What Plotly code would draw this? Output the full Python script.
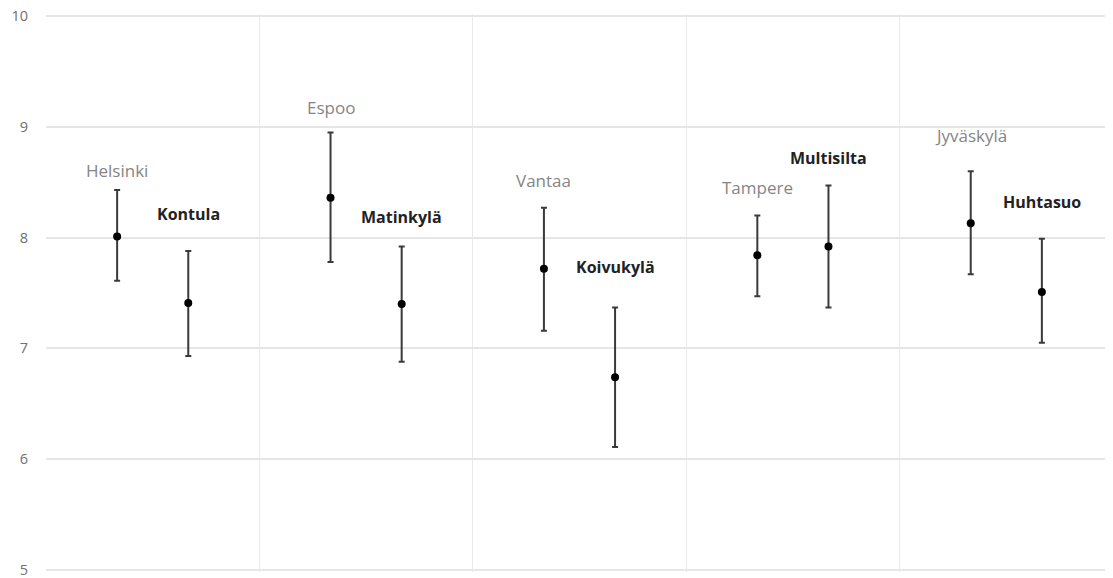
import plotly.graph_objects as go

cities = ['Helsinki', 'Espoo', 'Vantaa', 'Tampere', 'Jyväskylä']
city_mean = [8.01, 8.36, 7.72, 7.84, 8.13]
city_low = [7.61, 7.78, 7.16, 7.47, 7.67]
city_high = [8.43, 8.95, 8.27, 8.20, 8.60]

areas = ['Kontula', 'Matinkylä', 'Koivukylä', 'Multisilta', 'Huhtasuo']
area_mean = [7.41, 7.40, 6.74, 7.92, 7.51]
area_low = [6.93, 6.88, 6.11, 7.37, 7.05]
area_high = [7.88, 7.92, 7.37, 8.47, 7.99]

y_ticks = [5, 6, 7, 8, 9, 10]

# pixel lift of each label above the top of its error bar
city_label_shift = [20, 25, 27, 28, 36]
area_label_shift = [37, 30, 40, 28, 37]

city_x = [i + 1 / 3 for i in range(len(cities))]
area_x = [i + 2 / 3 for i in range(len(areas))]


def add_series(fig, x, mean, low, high):
    fig.add_trace(go.Scatter(
        x=x, y=mean, mode='markers',
        marker=dict(color='#000000', size=8),
        error_y=dict(type='data', symmetric=False,
                     array=[h - m for h, m in zip(high, mean)],
                     arrayminus=[m - l for m, l in zip(mean, low)],
                     color='#3a3a3a', thickness=2, width=3),
        showlegend=False, cliponaxis=False,
    ))


fig = go.Figure()
add_series(fig, city_x, city_mean, city_low, city_high)
add_series(fig, area_x, area_mean, area_low, area_high)

for x, top, name, shift in zip(city_x, city_high, cities, city_label_shift):
    fig.add_annotation(x=x, y=top, text=name, showarrow=False, yanchor='middle',
                       yshift=shift, font=dict(color='#858585', size=17))
for x, top, name, shift in zip(area_x, area_high, areas, area_label_shift):
    fig.add_annotation(x=x, y=top, text='<b>' + name + '</b>', showarrow=False,
                       yanchor='middle', yshift=shift,
                       font=dict(color='#222222', size=16))

# the page body adds 8px of margin, so the plot area is pulled back by that
fig.update_layout(
    width=1113, height=578,
    margin=dict(l=38, r=8, t=6, b=14),
    plot_bgcolor='white', paper_bgcolor='white',
    font=dict(family='Open Sans, sans-serif'),
    xaxis=dict(range=[0, 5], tickvals=[1, 2, 3, 4], showticklabels=False,
               showgrid=True, gridcolor='#ebebeb', gridwidth=1,
               zeroline=False, showline=False),
    yaxis=dict(range=[4.98, 10.02], tickvals=y_ticks, showgrid=True,
               gridcolor='#e6e6e6', gridwidth=1.5, zeroline=False,
               showline=False, ticklabelstandoff=17, automargin=False,
               ticklabeloverflow='allow',
               tickfont=dict(color='#707070', size=14.5)),
)

fig.write_html("out.html")
